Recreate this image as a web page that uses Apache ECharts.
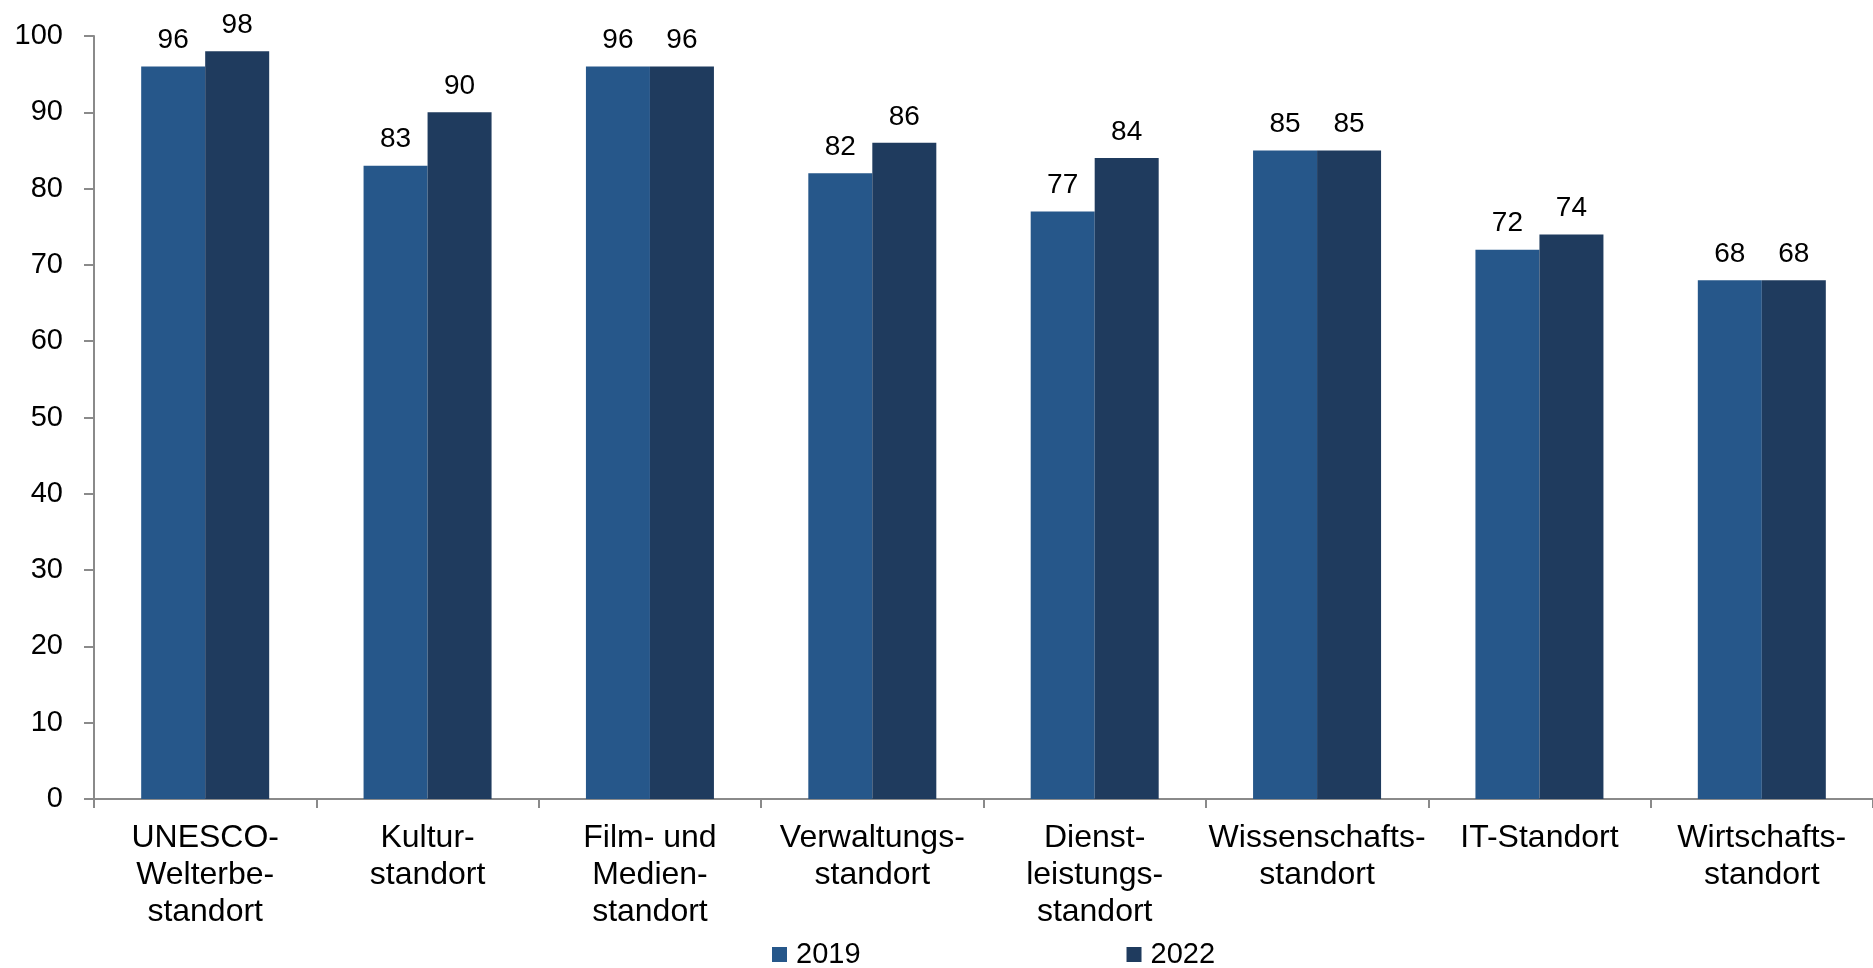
<!DOCTYPE html>
<html>
<head>
<meta charset="utf-8">
<script src="https://cdn.jsdelivr.net/npm/echarts@6/dist/echarts.min.js"></script>
<style>
html,body{margin:0;padding:0;background:#fff;}
#c{width:1873px;height:968px;}
</style>
</head>
<body>
<div id="c"></div>
<script>
const categories = [
  "UNESCO-\nWelterbe-\nstandort",
  "Kultur-\nstandort",
  "Film- und\nMedien-\nstandort",
  "Verwaltungs-\nstandort",
  "Dienst-\nleistungs-\nstandort",
  "Wissenschafts-\nstandort",
  "IT-Standort",
  "Wirtschafts-\nstandort"
];
const values2019 = [96, 83, 96, 82, 77, 85, 72, 68];
const values2022 = [98, 90, 96, 86, 84, 85, 74, 68];
const seriesNames = ["2019", "2022"];

const FONT = '"Liberation Sans", Arial, sans-serif';
const chart = echarts.init(document.getElementById('c'));
const labelCfg = {
  show: true, position: 'top', distance: 12,
  color: '#000', fontFamily: FONT, fontSize: 28
};
chart.setOption({
  animation: false,
  backgroundColor: '#fff',
  grid: { left: 94, top: 36, width: 1792, height: 763, containLabel: false },
  legend: {
    data: seriesNames,
    left: 772, top: 940, padding: 0,
    itemWidth: 15, itemHeight: 15, itemGap: 266,
    icon: 'rect',
    textStyle: { fontFamily: FONT, fontSize: 29, color: '#000', padding: [0,0,0,4] }
  },
  xAxis: {
    type: 'category',
    data: categories,
    boundaryGap: true,
    axisLine: { lineStyle: { color: '#8a8a8a', width: 2 } },
    axisTick: { show: true, length: 9, lineStyle: { color: '#8a8a8a', width: 2 } },
    axisLabel: { interval: 0, margin: 21, color: '#000', fontFamily: FONT, fontSize: 32, lineHeight: 37 }
  },
  yAxis: {
    type: 'value',
    min: 0, max: 100, interval: 10,
    splitLine: { show: false },
    axisLine: { show: true, lineStyle: { color: '#8a8a8a', width: 2 } },
    axisTick: { show: true, length: 10, lineStyle: { color: '#8a8a8a', width: 2 } },
    axisLabel: { margin: 31, color: '#000', fontFamily: FONT, fontSize: 29 }
  },
  series: [
    { name: seriesNames[0], type: 'bar', data: values2019, barWidth: 64, barGap: '0%',
      itemStyle: { color: '#26578A' }, label: labelCfg },
    { name: seriesNames[1], type: 'bar', data: values2022, barWidth: 64, barGap: '0%',
      itemStyle: { color: '#1F3B5E' }, label: labelCfg }
  ]
});
</script>
</body>
</html>
